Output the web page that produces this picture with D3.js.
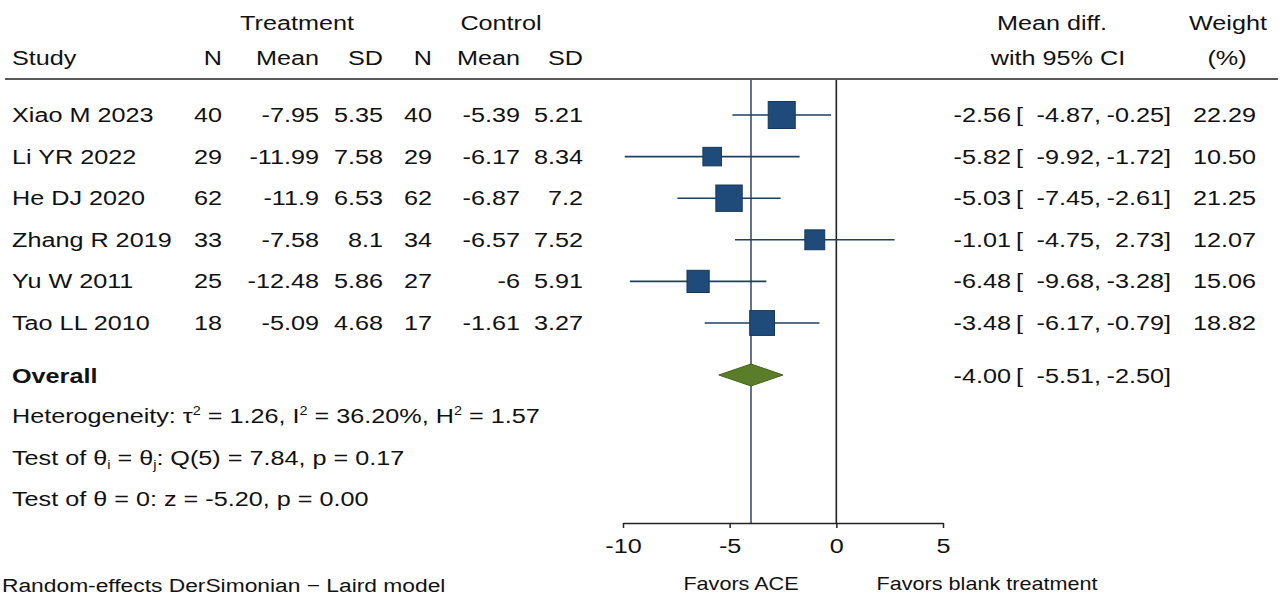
<!DOCTYPE html>
<html>
<head>
<meta charset="utf-8">
<script src="https://cdn.jsdelivr.net/npm/d3@7"></script>
<style>
  body { margin: 0; background: #fff; }
  text { font-family: "Liberation Sans", Arial, sans-serif; font-size: 21px; fill: #111; }
</style>
</head>
<body>
<div class="forest"></div>
<script>
var studies = ["Xiao M 2023", "Li YR 2022", "He DJ 2020", "Zhang R 2019", "Yu W 2011", "Tao LL 2010"];
var tN    = [40, 29, 62, 33, 25, 18];
var tMean = [-7.95, -11.99, -11.9, -7.58, -12.48, -5.09];
var tSD   = [5.35, 7.58, 6.53, 8.1, 5.86, 4.68];
var cN    = [40, 29, 62, 34, 27, 17];
var cMean = [-5.39, -6.17, -6.87, -6.57, -6, -1.61];
var cSD   = [5.21, 8.34, 7.2, 7.52, 5.91, 3.27];
var md    = [-2.56, -5.82, -5.03, -1.01, -6.48, -3.48];
var mdLo  = [-4.87, -9.92, -7.45, -4.75, -9.68, -6.17];
var mdHi  = [-0.25, -1.72, -2.61, 2.73, -3.28, -0.79];
var weight = [22.29, 10.50, 21.25, 12.07, 15.06, 18.82];
var overallEs = -4.00, overallLo = -5.51, overallHi = -2.50;
var xTicks = [-10, -5, 0, 5];

var width = 1280, height = 600;
var sx = 1.2; // text in the picture is stretched horizontally

var svg = d3.select('.forest').append("svg")
  .attr("width", width)
  .attr("height", height);

function txt(g, x, y, str, anchor) {
  return g.append("text")
    .attr("transform", "translate(" + x + "," + y + ") scale(" + sx + ",1)")
    .attr("text-anchor", anchor || "start")
    .text(str);
}
function fmt(v) { return v.toFixed(2); }

var x = d3.scaleLinear().domain([-10, 5]).range([623, 943]);
var y = d3.scalePoint().domain(studies).range([115, 323]);
var size = d3.scaleSqrt().domain([0, d3.max(weight)]).range([0, 27]);
var yOverall = 375, yTop = 80, yAxis = 523;

// headers
var head = svg.append("g");
txt(head, 297, 30, "Treatment", "middle");
txt(head, 501, 30, "Control", "middle");
txt(head, 1052, 30, "Mean diff.", "middle");
txt(head, 1228, 30, "Weight", "middle");
txt(head, 12, 65, "Study");
[[222, "N"], [319, "Mean"], [383, "SD"], [432, "N"], [520, "Mean"], [583, "SD"]].forEach(function (h) {
  txt(head, h[0], 65, h[1], "end");
});
txt(head, 1058, 65, "with 95% CI", "middle");
txt(head, 1227, 65, "(%)", "middle");

svg.append("line")
  .attr("x1", 5).attr("x2", 1278)
  .attr("y1", 79).attr("y2", 79)
  .attr("stroke", "#222").attr("stroke-width", 1.5);

// reference lines
svg.append("line")
  .attr("x1", x(0)).attr("x2", x(0))
  .attr("y1", yTop).attr("y2", yAxis)
  .attr("stroke", "#222").attr("stroke-width", 1.6);
svg.append("line")
  .attr("x1", x(overallEs)).attr("x2", x(overallEs))
  .attr("y1", yTop).attr("y2", yAxis)
  .attr("stroke", "#1f3a5f").attr("stroke-width", 1.4);

// study rows
studies.forEach(function (s, i) {
  var yy = y(s), base = yy + 7;
  var g = svg.append("g").attr("class", "study");
  txt(g, 12, base, s);
  txt(g, 222, base, String(tN[i]), "end");
  txt(g, 319, base, String(tMean[i]), "end");
  txt(g, 383, base, String(tSD[i]), "end");
  txt(g, 432, base, String(cN[i]), "end");
  txt(g, 520, base, String(cMean[i]), "end");
  txt(g, 583, base, String(cSD[i]), "end");

  g.append("line")
    .attr("x1", x(mdLo[i])).attr("x2", x(mdHi[i]))
    .attr("y1", yy).attr("y2", yy)
    .attr("stroke", "#1f3f66").attr("stroke-width", 1.6);
  var sz = size(weight[i]);
  g.append("rect")
    .attr("x", x(md[i]) - sz / 2).attr("y", yy - sz / 2)
    .attr("width", sz).attr("height", sz)
    .attr("fill", "#1f4b7a").attr("stroke", "#163759").attr("stroke-width", 1);

  txt(g, 1011, base, fmt(md[i]), "end");
  txt(g, 1016, base, "[");
  txt(g, 1101, base, fmt(mdLo[i]) + ",", "end");
  txt(g, 1171, base, fmt(mdHi[i]) + "]", "end");
  txt(g, 1256, base, fmt(weight[i]), "end");
});

// overall
var ov = svg.append("g");
txt(ov, 12, yOverall + 8, "Overall").style("font-weight", "bold");
ov.append("path")
  .attr("d", "M" + x(overallLo) + "," + yOverall +
    "L" + x(overallEs) + "," + (yOverall - 11) +
    "L" + x(overallHi) + "," + yOverall +
    "L" + x(overallEs) + "," + (yOverall + 11) + "Z")
  .attr("fill", "#5a7d2a").attr("stroke", "#45631e").attr("stroke-width", 1);
txt(ov, 1011, yOverall + 8, fmt(overallEs), "end");
txt(ov, 1016, yOverall + 8, "[");
txt(ov, 1101, yOverall + 8, fmt(overallLo) + ",", "end");
txt(ov, 1171, yOverall + 8, fmt(overallHi) + "]", "end");

// statistics
var t1 = txt(svg, 12, 423, "Heterogeneity: τ");
t1.append("tspan").attr("dy", -8).style("font-size", "12px").text("2");
t1.append("tspan").attr("dy", 8).text(" = 1.26, I");
t1.append("tspan").attr("dy", -8).style("font-size", "12px").text("2");
t1.append("tspan").attr("dy", 8).text(" = 36.20%, H");
t1.append("tspan").attr("dy", -8).style("font-size", "12px").text("2");
t1.append("tspan").attr("dy", 8).text(" = 1.57");

var t2 = txt(svg, 12, 465, "Test of θ");
t2.append("tspan").attr("dy", 4).style("font-size", "12px").text("i");
t2.append("tspan").attr("dy", -4).text(" = θ");
t2.append("tspan").attr("dy", 4).style("font-size", "12px").text("j");
t2.append("tspan").attr("dy", -4).text(": Q(5) = 7.84, p = 0.17");

txt(svg, 12, 506, "Test of θ = 0: z = -5.20, p = 0.00");

// axis
var axis = svg.append("g")
  .attr("transform", "translate(0," + yAxis + ")")
  .call(d3.axisBottom(x).tickValues(xTicks).tickSize(5).tickSizeOuter(0));
axis.select(".domain").attr("stroke", "#222").attr("stroke-width", 1.5);
axis.selectAll(".tick line").attr("stroke", "#222").attr("stroke-width", 1.5);
axis.selectAll(".tick text").remove();
axis.selectAll(".tick").each(function (d) {
  d3.select(this).append("text")
    .attr("transform", "translate(0,30) scale(" + sx + ",1)")
    .attr("text-anchor", "middle")
    .style("font-family", "'Liberation Sans', Arial, sans-serif")
    .style("font-size", "21px")
    .attr("fill", "#111")
    .text(String(d));
});

txt(svg, 741, 590, "Favors ACE", "middle").style("font-size", "18px");
txt(svg, 987, 590, "Favors blank treatment", "middle").style("font-size", "18px");
txt(svg, 2, 592, "Random-effects DerSimonian − Laird model").style("font-size", "19px");
</script>
</body>
</html>
